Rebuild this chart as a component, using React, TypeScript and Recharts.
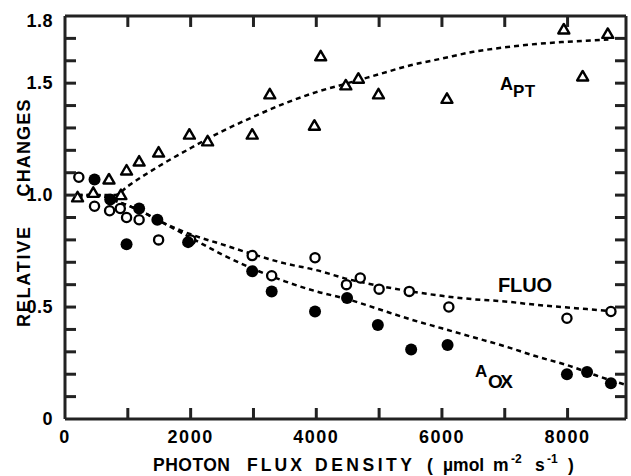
import React from 'react';
import { ComposedChart, XAxis, YAxis, Line, Scatter, ReferenceLine } from 'recharts';

// ---- data ----
const aptX = [200, 450, 700, 890, 980, 1180, 1490, 1980, 2270, 2980, 3260, 3970, 4070, 4470, 4670, 4990, 6080, 7940, 8240, 8640];
const aptY = [0.99, 1.01, 1.07, 1.0, 1.11, 1.15, 1.19, 1.27, 1.24, 1.27, 1.45, 1.31, 1.62, 1.49, 1.52, 1.45, 1.43, 1.74, 1.53, 1.72];

const fluoX = [220, 470, 710, 880, 980, 1180, 1490, 2000, 2980, 3290, 3980, 4480, 4700, 5000, 5480, 6110, 7990, 8690];
const fluoY = [1.08, 0.95, 0.93, 0.94, 0.9, 0.89, 0.8, 0.8, 0.73, 0.64, 0.72, 0.6, 0.63, 0.58, 0.57, 0.5, 0.45, 0.48];

const aoxX = [470, 720, 980, 1180, 1470, 1960, 2980, 3290, 3980, 4490, 4980, 5510, 6090, 7990, 8310, 8690];
const aoxY = [1.07, 0.98, 0.78, 0.94, 0.89, 0.79, 0.66, 0.57, 0.48, 0.54, 0.42, 0.31, 0.33, 0.2, 0.21, 0.16];

const aptFitX = [200, 500, 800, 1000, 1500, 2000, 2500, 3000, 3500, 4000, 4500, 5000, 5500, 6000, 6500, 7000, 7500, 8000, 8650];
const aptFitY = [0.99, 1.0, 1.0, 1.04, 1.13, 1.21, 1.285, 1.35, 1.41, 1.46, 1.5, 1.54, 1.58, 1.61, 1.64, 1.66, 1.675, 1.685, 1.695];

const fluoFitX = [200, 500, 800, 1200, 1500, 2000, 2500, 3000, 3500, 4000, 4500, 5000, 5500, 6000, 6500, 7000, 7500, 8000, 8650];
const fluoFitY = [1.0, 1.0, 0.975, 0.93, 0.885, 0.825, 0.78, 0.735, 0.695, 0.665, 0.625, 0.595, 0.57, 0.55, 0.535, 0.525, 0.51, 0.498, 0.483];

const aoxFitX = [200, 500, 800, 1200, 1500, 2000, 2500, 3000, 3500, 4000, 4500, 5000, 5500, 6000, 6500, 7000, 7500, 8000, 8500, 8900];
const aoxFitY = [1.0, 1.0, 0.975, 0.93, 0.885, 0.81, 0.735, 0.67, 0.615, 0.57, 0.535, 0.49, 0.445, 0.405, 0.365, 0.325, 0.28, 0.24, 0.19, 0.155];

const xTicks = [0, 1000, 2000, 3000, 4000, 5000, 6000, 7000, 8000];
const xTickLabels = [0, 2000, 4000, 6000, 8000];
const yTicks = [0, 0.1, 0.2, 0.3, 0.4, 0.5, 0.6, 0.7, 0.8, 0.9, 1.0, 1.1, 1.2, 1.3, 1.4, 1.5, 1.6, 1.7, 1.8];
const yTickLabels = ['0', '0.5', '1.0', '1.5', '1.8'];
const xDomain = [0, 8930];
const yDomain = [0, 1.8];
const X_TICK_LEN = 175;
const Y_TICK_LEN = 0.049;

const zip = (xs: number[], ys: number[]) => xs.map((x, i) => ({ x, y: ys[i] }));
const aptData = zip(aptX, aptY);
const fluoData = zip(fluoX, fluoY);
const aoxData = zip(aoxX, aoxY);
const aptFit = zip(aptFitX, aptFitY);
const fluoFit = zip(fluoFitX, fluoFitY);
const aoxFit = zip(aoxFitX, aoxFitY);

const FONT = '"Liberation Sans", Arial, sans-serif';
const TICK = 11;
const OFF = 8; // default tickSize (6) + tickMargin (2)
const INK = 'black';
const FRAME = '#222';

const BottomTick = (p: any) => {
  const v = p.payload.value;
  const y0 = p.y - OFF;
  return (
    <g>
      {v !== 0 && <path d={`M${p.x},${y0}L${p.x},${y0 - TICK}`} stroke={FRAME} strokeWidth={3} fill="none" />}
      {xTickLabels.includes(v) && (
        <text x={p.x} y={y0 + 24} textAnchor="middle" fontFamily={FONT} fontWeight="bold" fontSize={18} letterSpacing={1.5} fill={INK}>
          {String(v)}
        </text>
      )}
    </g>
  );
};

const LeftTick = (p: any) => {
  const v = Number(p.payload.value);
  const s = v === 0 ? '0' : v.toFixed(1);
  const x0 = p.x + OFF;
  return (
    <g>
      {v !== 0 && v !== 1.8 && <path d={`M${x0},${p.y}L${x0 + TICK},${p.y}`} stroke={FRAME} strokeWidth={3} fill="none" />}
      {yTickLabels.includes(s) && (
        <text x={x0 - 12} y={p.y + (v === 1.8 ? 11 : 6)} textAnchor="end" fontFamily={FONT} fontWeight="bold" fontSize={18} letterSpacing={0.5} fill={INK}>
          {s}
        </text>
      )}
    </g>
  );
};

const Triangle = (p: any) => {
  const { cx, cy } = p;
  if (cx == null || cy == null) return <g />;
  return (
    <polygon
      points={`${cx},${cy - 5.5} ${cx - 5.5},${cy + 4} ${cx + 5.5},${cy + 4}`}
      fill="white"
      stroke={INK}
      strokeWidth={2.4}
      strokeLinejoin="round"
    />
  );
};
const OpenCircle = (p: any) => {
  const { cx, cy } = p;
  if (cx == null || cy == null) return <g />;
  return <circle cx={cx} cy={cy} r={4.6} fill="white" stroke={INK} strokeWidth={2.3} />;
};
const FilledCircle = (p: any) => {
  const { cx, cy } = p;
  if (cx == null || cy == null) return <g />;
  return <circle cx={cx} cy={cy} r={6} fill={INK} stroke="none" />;
};

const txt = { fontFamily: FONT, fontWeight: 'bold' as const, fill: INK };

export default function App() {
  return (
    <div style={{ position: 'absolute', left: 0, top: 0, width: 631, height: 476, background: '#fff' }}>
      <ComposedChart width={631} height={476} margin={{ top: 16, right: 5, bottom: 0, left: 0 }}>
        <XAxis
          dataKey="x"
          type="number"
          domain={xDomain}
          ticks={xTicks}
          interval={0}
          height={57}
          stroke={FRAME}
          tick={<BottomTick />}
          tickLine={{ stroke: FRAME, strokeWidth: 0 }}
          axisLine={{ stroke: FRAME, strokeWidth: 3 }}
        />
        <YAxis
          dataKey="y"
          type="number"
          domain={yDomain}
          ticks={yTicks}
          interval={0}
          width={65}
          stroke={FRAME}
          tick={<LeftTick />}
          tickLine={{ stroke: FRAME, strokeWidth: 0 }}
          axisLine={{ stroke: FRAME, strokeWidth: 3 }}
        />

        {/* top and right frame with inward ticks, through the scales */}
        <ReferenceLine y={yDomain[1]} stroke={FRAME} strokeWidth={3} ifOverflow="visible" />
        <ReferenceLine x={xDomain[1]} stroke={FRAME} strokeWidth={3} ifOverflow="visible" />
        {xTicks.filter((t) => t > 0).map((t) => (
          <ReferenceLine
            key={'tx' + t}
            segment={[{ x: t, y: yDomain[1] }, { x: t, y: yDomain[1] - Y_TICK_LEN }]}
            stroke={FRAME}
            strokeWidth={3}
            ifOverflow="visible"
          />
        ))}
        {yTicks.filter((t) => t > 0 && t < yDomain[1]).map((t) => (
          <ReferenceLine
            key={'ty' + t}
            segment={[{ x: xDomain[1], y: t }, { x: xDomain[1] - X_TICK_LEN, y: t }]}
            stroke={FRAME}
            strokeWidth={3}
            ifOverflow="visible"
          />
        ))}

        <Line data={aptFit} dataKey="y" type="monotone" stroke={INK} strokeWidth={2.5} strokeDasharray="5 4" dot={false} isAnimationActive={false} />
        <Line data={fluoFit} dataKey="y" type="monotone" stroke={INK} strokeWidth={2.5} strokeDasharray="5 4" dot={false} isAnimationActive={false} />
        <Line data={aoxFit} dataKey="y" type="monotone" stroke={INK} strokeWidth={2.5} strokeDasharray="5 4" dot={false} isAnimationActive={false} />
        <Scatter data={aptData} dataKey="y" shape={<Triangle />} isAnimationActive={false} />
        <Scatter data={fluoData} dataKey="y" shape={<OpenCircle />} isAnimationActive={false} />
        <Scatter data={aoxData} dataKey="y" shape={<FilledCircle />} isAnimationActive={false} />

        {/* annotations */}
        <text x={500} y={90} fontSize={18} {...txt}>A</text>
        <text x={513} y={97} fontSize={17} {...txt} letterSpacing={0.5}>PT</text>
        <text x={498} y={292} fontSize={20} {...txt} textLength={54} lengthAdjust="spacing">FLUO</text>
        <text x={475} y={377} fontSize={17} {...txt}>A</text>
        <text x={488} y={388} fontSize={19} {...txt} textLength={25} lengthAdjust="spacing">OX</text>

        {/* axis titles */}
        <text transform="translate(30,277) rotate(-90)" textAnchor="middle" fontSize={18} {...txt} textLength={100} lengthAdjust="spacing">RELATIVE</text>
        <text transform="translate(30,148) rotate(-90)" textAnchor="middle" fontSize={18} {...txt} textLength={97} lengthAdjust="spacing">CHANGES</text>

        <text x={153} y={471} fontSize={17.5} {...txt} textLength={77} lengthAdjust="spacing">PHOTON</text>
        <text x={247} y={471} fontSize={17.5} {...txt} textLength={55} lengthAdjust="spacing">FLUX</text>
        <text x={315} y={471} fontSize={17.5} {...txt} textLength={97} lengthAdjust="spacing">DENSITY</text>
        <text x={427} y={471} fontSize={17.5} {...txt}>(</text>
        <text x={443} y={471} fontSize={17.5} {...txt}>µmol</text>
        <text x={493} y={471} fontSize={17.5} {...txt}>m</text>
        <text x={511} y={463} fontSize={12} {...txt}>-2</text>
        <text x={535} y={471} fontSize={17.5} {...txt}>s</text>
        <text x={547} y={463} fontSize={12} {...txt}>-1</text>
        <text x={568} y={471} fontSize={17.5} {...txt}>)</text>
      </ComposedChart>
    </div>
  );
}
